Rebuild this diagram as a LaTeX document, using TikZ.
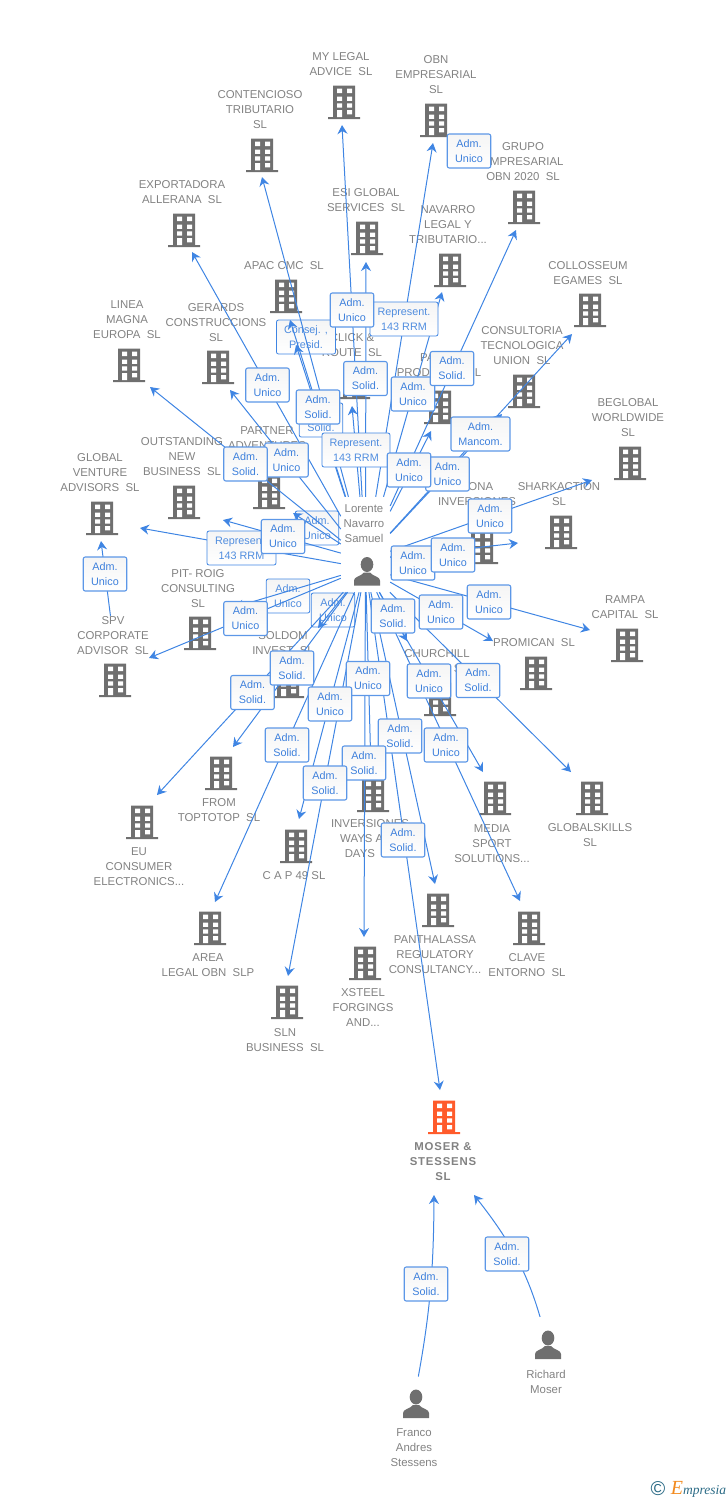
\documentclass[tikz,border=0pt]{standalone}
\usepackage{fontspec}
\setmainfont{Liberation Sans}
\newfontfamily\logofont{Liberation Serif}
\usetikzlibrary{arrows.meta,positioning}

\definecolor{icongray}{HTML}{6F6F6F}
\definecolor{iconorange}{HTML}{FF5B2B}
\definecolor{lblgray}{HTML}{828282}
\definecolor{linkblue}{HTML}{3F85E3}
\definecolor{relblue}{HTML}{3D80DC}
\definecolor{logoteal}{HTML}{2A6A85}
\definecolor{logoorange}{HTML}{F28A1E}

\begin{document}
\begin{tikzpicture}[
    x=1pt, y=-1pt,
    bldg/.style={rectangle, inner sep=0pt, minimum width=33pt, minimum height=34pt,
        path picture={
            \fill[#1, shift={(path picture bounding box.center)}] (-11,-16.5) rectangle (11,15) (-16,15) rectangle (16,17);
            \foreach \wy in {-13.3,-5.5,1.3}
                \fill[white, shift={(path picture bounding box.center)}] (-7,\wy) rectangle +(5,4.3) (3,\wy) rectangle +(5,4.3);
            \fill[white, shift={(path picture bounding box.center)}] (-7,8) rectangle (-2,15) (3,8) rectangle (8,12.3);
        }},
    bldg/.default=icongray,
    pers/.style={rectangle, inner sep=0pt, minimum width=27pt, minimum height=29pt,
        path picture={
            \fill[icongray, shift={(path picture bounding box.center)}] (0,-7) ellipse (6.3 and 7.5)
                (-13,14) -- (-13,9) .. controls (-13,5) and (-6,5) .. (-3,1) -- (3,1) .. controls (6,5) and (13,5) .. (13,9) -- (13,14) -- cycle;
        }},
    lbl/.style={align=center, inner sep=1pt, yshift=-1pt, text=lblgray, font=\fontsize{11.4}{15}\selectfont},
    rel/.style={rectangle, draw=linkblue!85, line width=1.1pt, rounded corners=2pt, top color=black!4, bottom color=white,
        minimum width=43.5pt, minimum height=34pt, inner sep=0pt, align=center, text=relblue, font=\fontsize{10.8}{15}\selectfont},
    relthin/.style={rel, draw=linkblue, line width=.8pt, text=relblue!90},
    relwide/.style={relthin, minimum width=#1},
    relwide/.default=68pt,
    link/.style={-{Stealth[length=9pt,width=10pt,inset=3pt]}, linkblue, line width=1pt}
]

\useasboundingbox (0,0) rectangle (728,1500);

% Company icons
\node[bldg] (legal) at (344,102) {};
\node[bldg] (obn) at (436,120) {};
\node[bldg] (contencioso) at (262,155) {};
\node[bldg] (grupo) at (524,207) {};
\node[bldg] (exportadora) at (184,230) {};
\node[bldg] (esi) at (367,238) {};
\node[bldg] (navarro) at (450,270) {};
\node[bldg] (apac) at (286,296) {};
\node[bldg] (collosseum) at (590,310) {};
\node[bldg] (linea) at (129,365) {};
\node[bldg] (gerards) at (218,367) {};
\node[bldg] (click) at (354,382) {};
\node[bldg] (palma) at (440,407) {};
\node[bldg] (consultoria) at (524,391) {};
\node[bldg] (beglobal) at (630,463) {};
\node[bldg] (outstanding) at (184,502) {};
\node[bldg] (partner) at (269,492) {};
\node[bldg] (global) at (102,518) {};
\node[bldg] (bona) at (482,547) {};
\node[bldg] (shark) at (561,532) {};
\node[bldg] (rampa) at (627,645) {};
\node[bldg] (pitroig) at (200,633) {};
\node[bldg] (spv) at (115,680) {};
\node[bldg] (soldom) at (288,681) {};
\node[bldg] (promican) at (536,673) {};
\node[bldg] (churchill) at (440,699) {};
\node[bldg] (from) at (221,773) {};
\node[bldg] (media) at (495,798) {};
\node[bldg] (skills) at (592,798) {};
\node[bldg] (eu) at (142,822) {};
\node[bldg] (ways) at (373,795) {};
\node[bldg] (cap) at (296,846) {};
\node[bldg] (pantha) at (438,910) {};
\node[bldg] (clave) at (529,928) {};
\node[bldg] (area) at (210,928) {};
\node[bldg] (xsteel) at (365,963) {};
\node[bldg] (sln) at (287,1002) {};
\node[bldg=iconorange] (moser) at (444,1117) {};

% Company names
\node[lbl] (legallbl) at (341,63.5) {MY LEGAL\\ADVICE\ \ SL};
\node[lbl] (obnlbl) at (436,74) {OBN\\EMPRESARIAL\\SL};
\node[lbl] (contlbl) at (260,109) {CONTENCIOSO\\TRIBUTARIO\\SL};
\node[lbl] (grupolbl) at (523,161) {GRUPO\\EMPRESARIAL\\OBN 2020\ \ SL};
\node[lbl] (explbl) at (182,191.5) {EXPORTADORA\\ALLERANA\ \ SL};
\node[lbl] (esilbl) at (366,199.5) {ESI GLOBAL\\SERVICES\ \ SL};
\node[lbl] (navlbl) at (448,224) {NAVARRO\\LEGAL Y\\TRIBUTARIO...};
\node[lbl] (apaclbl) at (284,265) {APAC CMC\ \ SL};
\node[lbl] (collbl) at (588,272.5) {COLLOSSEUM\\EGAMES\ \ SL};
\node[lbl] (linealbl) at (127,319) {LINEA\\MAGNA\\EUROPA\ \ SL};
\node[lbl] (gerlbl) at (216,322) {GERARDS\\CONSTRUCCIONS\\SL};
\node[lbl] (clicklbl) at (352,344) {CLICK \&\\ROUTE\ \ SL};
\node[lbl] (palmalbl) at (439,364.5) {PALMA\\PRODUCTS\ \ SL};
\node[lbl] (conslbl) at (522,345) {CONSULTORIA\\TECNOLOGICA\\UNION\ \ SL};
\node[lbl] (beglbl) at (628,417) {BEGLOBAL\\WORLDWIDE\\SL};
\node[lbl] (outlbl) at (182,456) {OUTSTANDING\\NEW\\BUSINESS\ \ SL};
\node[lbl] (partlbl) at (267,445) {PARTNER\\ADVENTURES\\SL};
\node[lbl] (globlbl) at (100,472) {GLOBAL\\VENTURE\\ADVISORS\ \ SL};
\node[lbl] (bonalbl) at (477,493.5) {BONA\\INVERSIONES};
\node[lbl] (sharklbl) at (559,493.5) {SHARKACTION\\SL};
\node[lbl] (rampalbl) at (625,606.5) {RAMPA\\CAPITAL\ \ SL};
\node[lbl] (pitlbl) at (198,588) {PIT- ROIG\\CONSULTING\\SL};
\node[lbl] (spvlbl) at (113,635) {SPV\\CORPORATE\\ADVISOR\ \ SL};
\node[lbl] (soldlbl) at (283,642.5) {SOLDOM\\INVEST\ \ SL};
\node[lbl] (promlbl) at (534,642) {PROMICAN\ \ SL};
\node[lbl] (churlbl) at (437,660.5) {CHURCHILL\\INVEST\ \ SL};
\node[lbl] (fromlbl) at (219,809.5) {FROM\\TOPTOTOP\ \ SL};
\node[lbl] (medialbl) at (492,843) {MEDIA\\SPORT\\SOLUTIONS...};
\node[lbl] (skillslbl) at (590,834.5) {GLOBALSKILLS\\SL};
\node[lbl] (eulbl) at (139,866) {EU\\CONSUMER\\ELECTRONICS...};
\node[lbl] (wayslbl) at (370,838) {INVERSIONES\\WAYS AND\\DAYS\ \ SL};
\node[lbl] (caplbl) at (294,875) {C A P 49 SL};
\node[lbl] (panthalbl) at (435,954) {PANTHALASSA\\REGULATORY\\CONSULTANCY...};
\node[lbl] (clavelbl) at (527,964.5) {CLAVE\\ENTORNO\ \ SL};
\node[lbl] (arealbl) at (208,964.5) {AREA\\LEGAL OBN\ \ SLP};
\node[lbl] (xsteellbl) at (363,1007) {XSTEEL\\FORGINGS\\AND...};
\node[lbl] (slnlbl) at (285,1039.5) {SLN\\BUSINESS\ \ SL};
\node[lbl, font=\fontsize{11.4}{15}\selectfont\bfseries\addfontfeature{LetterSpace=7}] (moserlbl) at (443,1161) {MOSER \&\\STESSENS\\SL};

% People
\node[pers] (lorente) at (367,571.5) {};
\node[lbl] (lorentelbl) at (364,523) {Lorente\\Navarro\\Samuel};
\node[pers] (richard) at (548,1345) {};
\node[lbl] (richardlbl) at (546,1380.5) {Richard\\Moser};
\node[pers] (franco) at (416,1404) {};
\node[lbl] (francolbl) at (414,1447) {Franco\\Andres\\Stessens};

% Where the links of Lorente stop
\node[rectangle, minimum width=49pt, minimum height=126pt, inner sep=0pt] (hub) at (365.5,560) {};
\node[rectangle, minimum width=49pt, minimum height=48pt, inner sep=0pt] (hubb) at (365.5,568) {};

% Arrow ends
\coordinate (legaltip) at (342,125);
\coordinate (obntip) at (433,143);
\coordinate (conttip) at (262,177);
\coordinate (grupotip) at (516,230);
\coordinate (exptip) at (192,252);
\coordinate (esitip) at (366,262);
\coordinate (navtip) at (442,292);
\coordinate (apactip) at (290,320);
\coordinate (apactipb) at (296,345);
\coordinate (coltip) at (572,334);
\coordinate (lineatip) at (150,387);
\coordinate (gertip) at (230,390);
\coordinate (clicktip) at (352,406);
\coordinate (palmatip) at (431,431);
\coordinate (constip) at (502,414);
\coordinate (begtip) at (592,480);
\coordinate (outtip) at (223,520);
\coordinate (parttip) at (293,513);
\coordinate (globtip) at (140,528);
\coordinate (bonatip) at (440,551);
\coordinate (sharktip) at (518,543);
\coordinate (rampatip) at (590,630);
\coordinate (pittip) at (235,607);
\coordinate (spvtip) at (149,658);
\coordinate (soldtip) at (318,628);
\coordinate (promtip) at (493,641);
\coordinate (churtip) at (407,641);
\coordinate (fromtip) at (233,747);
\coordinate (mediatip) at (483,772);
\coordinate (skillstip) at (571,772);
\coordinate (eutip) at (157,795);
\coordinate (waystip) at (371,770);
\coordinate (captip) at (299,819);
\coordinate (panthatip) at (435,884);
\coordinate (clavetip) at (520,901);
\coordinate (areatip) at (215,902);
\coordinate (xsteeltip) at (364,937);
\coordinate (slntip) at (288,976);
\coordinate (mosertip) at (440,1090);
\coordinate (spvglobtip) at (101,541);
\coordinate (francotip) at (434,1195);
\coordinate (richardtip) at (474,1195);

% Boxes that the links run over
\node[relthin] (relpart) at (317,528) {Adm.\\Unico};
\node[relwide=59pt] (relcont) at (306,337) {Consej. ,\\Presid.};
\node[relthin] (relpit) at (288,596) {Adm.\\Unico};
\node[relthin] (relsold) at (333,610) {Adm.\\Unico};

% Links
\foreach \t in {legaltip,obntip,conttip,grupotip,exptip,esitip,navtip,apactip,apactipb,coltip,lineatip,gertip,clicktip,palmatip,constip,begtip,outtip,parttip,bonatip,sharktip}
    \draw[link] (hub) -- (\t);
\foreach \t in {globtip,rampatip,pittip,spvtip,soldtip,promtip,churtip,fromtip,mediatip,skillstip,eutip,waystip,captip,panthatip,clavetip,areatip,xsteeltip,slntip,mosertip}
    \draw[link] (hubb) -- (\t);
\draw[link] (spvlbl) -- (spvglobtip);
\draw[link, shorten <=13pt] (franco.north) to[bend right=5] (francotip);
\draw[link, shorten <=14pt] (richard) to[bend right=11] (richardtip);

% Boxes on top of the links
\node[rel] (relobnb) at (469,151) {Adm.\\Unico};
\node[relwide] (relobn) at (404,319) {Represent.\\143 RRM};
\node[rel] (rellegal) at (352,310) {Adm.\\Unico};
\node[relthin] (relapacb) at (321,420) {Adm.\\Solid.};
\node[rel] (relesi) at (365.5,378.5) {Adm.\\Solid.};
\node[rel] (relapac) at (318,407) {Adm.\\Solid.};
\node[rel] (relexp) at (267.5,385) {Adm.\\Unico};
\node[relwide] (relclick) at (356,450) {Represent.\\143 RRM};
\node[rel] (relnav) at (413,394) {Adm.\\Unico};
\node[rel] (relgrupo) at (452,368.5) {Adm.\\Solid.};
\node[rel] (relcons) at (447.5,474) {Adm.\\Unico};
\node[rel, minimum width=59pt] (relcol) at (480.5,434) {Adm.\\Mancom.};
\node[rel] (relpalma) at (409,470) {Adm.\\Unico};
\node[rel] (relger) at (286.5,460) {Adm.\\Unico};
\node[rel] (rellinea) at (245.5,464) {Adm.\\Solid.};
\node[relwide=69pt] (relglob) at (241.5,548) {Represent.\\143 RRM};
\node[rel] (relout) at (283,536.5) {Adm.\\Unico};
\node[rel] (relbona) at (413,563) {Adm.\\Unico};
\node[rel] (relshark) at (453,555) {Adm.\\Unico};
\node[rel] (relbeg) at (490,516) {Adm.\\Unico};
\node[rel] (relrampa) at (489,602) {Adm.\\Unico};
\node[rel] (relprom) at (441,612) {Adm.\\Unico};
\node[rel] (relchur) at (393,616) {Adm.\\Solid.};
\node[rel] (relspv) at (245.5,618.5) {Adm.\\Unico};
\node[rel] (releu) at (252.5,692.5) {Adm.\\Solid.};
\node[rel] (relfrom) at (292,668) {Adm.\\Solid.};
\node[rel] (relway) at (368,678.5) {Adm.\\Unico};
\node[rel] (relcap) at (330,704) {Adm.\\Unico};
\node[rel] (relmedia) at (429,681) {Adm.\\Unico};
\node[rel] (relskills) at (478,680.5) {Adm.\\Solid.};
\node[rel] (relclave) at (446,745) {Adm.\\Unico};
\node[rel] (relpantha) at (400,736) {Adm.\\Solid.};
\node[rel] (relarea) at (287,745) {Adm.\\Solid.};
\node[rel] (relxsteel) at (364,763) {Adm.\\Solid.};
\node[rel] (relsln) at (325,783) {Adm.\\Solid.};
\node[rel] (relmoser) at (403,840) {Adm.\\Solid.};
\node[rel] (relspvglob) at (105,574) {Adm.\\Unico};
\node[rel] (relfranco) at (426,1284) {Adm.\\Solid.};
\node[rel] (relrichard) at (507,1254) {Adm.\\Solid.};

% Logo
\node[inner sep=0pt, text=logoteal, font=\fontsize{20}{20}\selectfont] (copyr) at (658,1489) {\textcopyright};
\node[inner sep=0pt, text=logoteal, font=\logofont\itshape\fontsize{13.5}{14}\selectfont] (logo) at (698.5,1489) {{\color{logoorange}\fontsize{20}{20}\selectfont E}mpresia};

\end{tikzpicture}
\end{document}
